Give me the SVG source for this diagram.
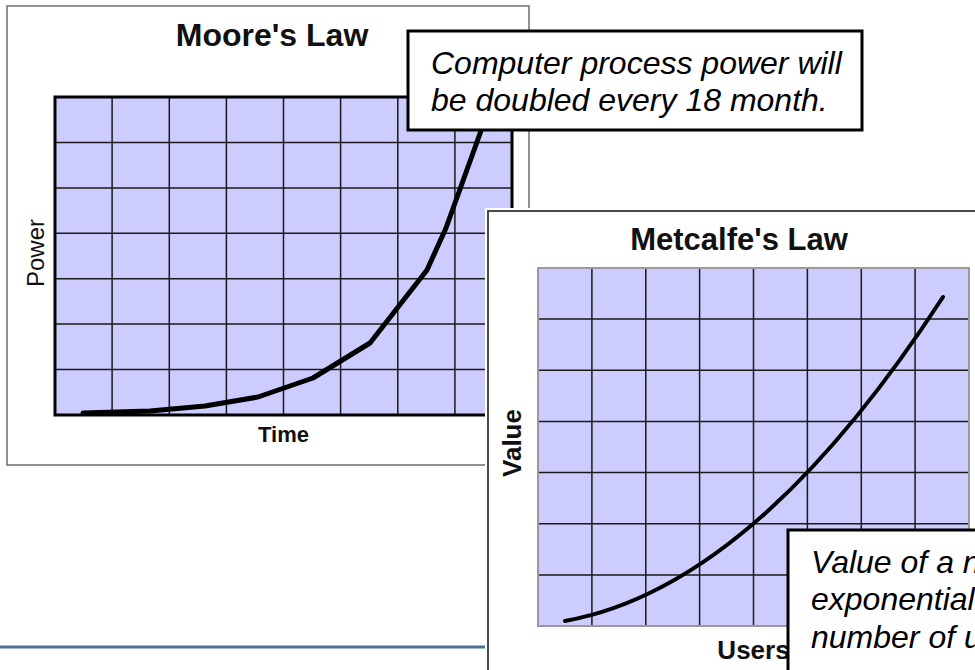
<svg xmlns="http://www.w3.org/2000/svg" width="975" height="670" viewBox="0 0 975 670">
<style>
.frame{fill:#ffffff;stroke:#6e6e6e;stroke-width:1.5}
.grid{fill:#ccccff}
.gl{fill:none;stroke:#1a1a1a;stroke-width:1.5}
.title{font-family:"Liberation Sans",Arial,sans-serif;font-weight:bold;fill:#111;text-anchor:middle}
.axis{font-family:"Liberation Sans",Arial,sans-serif;fill:#111;text-anchor:middle}
.note{fill:#ffffff;stroke:#000;stroke-width:3}
.notetext{font-family:"Liberation Sans",Arial,sans-serif;font-style:italic;font-size:32px;fill:#000}
.curve{fill:none;stroke:#000;stroke-linecap:round;stroke-linejoin:round}
</style>
<rect width="975" height="670" fill="#ffffff"/>
<g id="footer-line">
<line x1="0" y1="647" x2="486" y2="647" stroke="#4a7394" stroke-width="3"/>
</g>
<g id="moore-chart">
<rect class="frame" x="7" y="6" width="522" height="459"/>
<text class="title" x="272" y="46" font-size="32">Moore's Law</text>
<rect class="grid" x="55" y="97" width="457" height="318"/>
<path class="gl" d="M112.1,97V415M169.3,97V415M226.4,97V415M283.5,97V415M340.6,97V415M397.8,97V415M454.9,97V415M55,142.4H512M55,187.9H512M55,233.3H512M55,278.7H512M55,324.1H512M55,369.6H512"/>
<rect x="55" y="97" width="457" height="318" fill="none" stroke="#000" stroke-width="3"/>
<path class="curve" stroke-width="5" d="M83,413 L150,411 L205,406 L258,397 L313,378 L370,343 L427,270 L446,228 L482,128 L496,97"/>
<text class="axis" x="283.5" y="442" font-size="22" font-weight="bold">Time</text>
<text class="axis" transform="translate(44,253) rotate(-90)" font-size="24">Power</text>
</g>
<g id="moore-note">
<rect class="note" x="408" y="31" width="454" height="99"/>
<text class="notetext" x="431" y="74">Computer process power will</text>
<text class="notetext" x="431" y="111">be doubled every 18 month.</text>
</g>
<g id="metcalfe-chart">
<rect x="485" y="208" width="600" height="500" fill="#ffffff"/>
<rect x="488" y="211" width="600" height="500" fill="#ffffff" stroke="#4a4a4a" stroke-width="2"/>
<text class="title" x="739" y="250" font-size="31">Metcalfe's Law</text>
<rect class="grid" x="538" y="268" width="431" height="358"/>
<path class="gl" d="M591.9,268V626M645.8,268V626M699.6,268V626M753.5,268V626M807.4,268V626M861.3,268V626M915.1,268V626M538,319.1H969M538,370.3H969M538,421.4H969M538,472.6H969M538,523.7H969M538,574.9H969"/>
<rect x="538" y="268" width="431" height="358" fill="none" stroke="#9a9a9a" stroke-width="2"/>
<path class="curve" stroke-width="4" d="M565,621 Q754,587.4 943,297"/>
<text class="axis" x="753.5" y="659" font-size="26" font-weight="bold">Users</text>
<text class="axis" transform="translate(521,443) rotate(-90)" font-size="26" font-weight="bold">Value</text>
</g>
<g id="metcalfe-note">
<rect class="note" x="788" y="530" width="300" height="200" stroke-width="3.5"/>
<text class="notetext" x="811" y="573" font-size="31">Value of a n</text>
<text class="notetext" x="811" y="610" font-size="31">exponential</text>
<text class="notetext" x="811" y="648" font-size="31">number of u</text>
</g>
</svg>
